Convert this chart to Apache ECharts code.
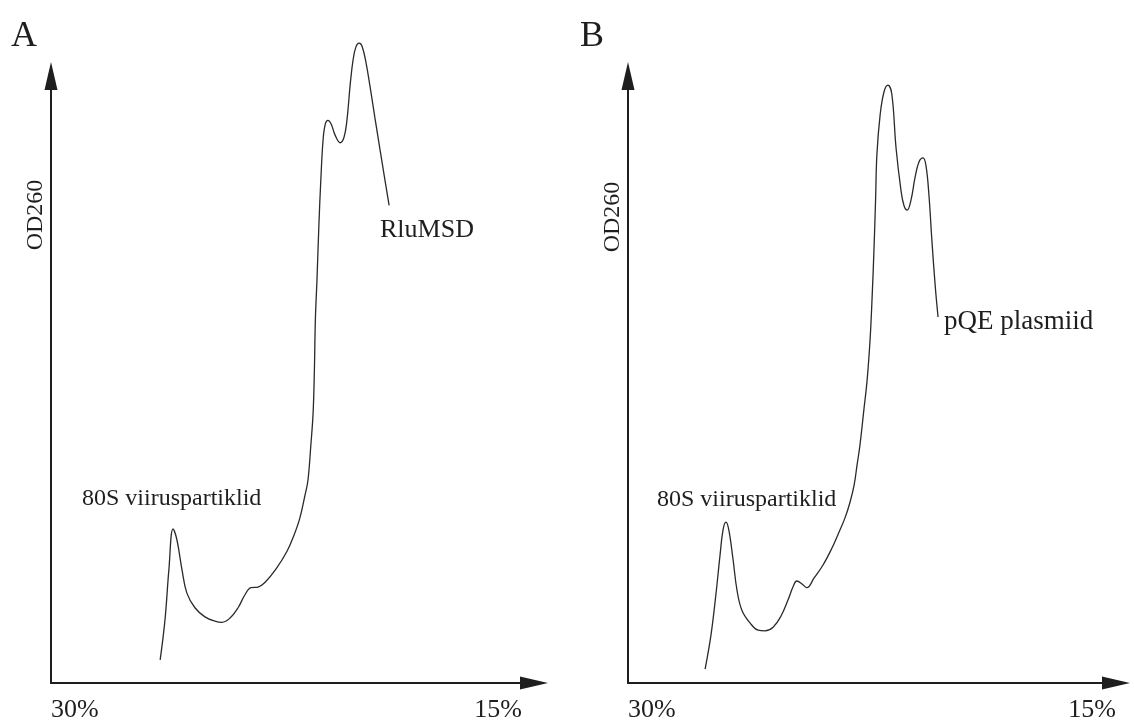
<!DOCTYPE html>
<html>
<head>
<meta charset="utf-8">
<script src="https://cdn.jsdelivr.net/npm/echarts@6/dist/echarts.min.js"></script>
<style>
html,body{margin:0;padding:0;background:#fff;}
#chart{width:1134px;height:723px;}
</style>
</head>
<body>
<div id="chart"></div>
<script>
// Sucrose gradient concentration (%) along the tube, 30% (bottom) -> 15% (top)
const xTickLabels = ['30%', '15%'];

// Panel A: RluMSD
const gradA = [26.61,26.46,26.34,26.21,26.09,25.93,25.78,25.53,25.22,24.91,24.69,24.44,24.19,23.98,23.79,23.57,23.35,23.01,22.67,22.45,22.27,22.11,22.02,21.93,21.86,21.82,21.79,21.74,21.68,21.62,21.55,21.48,21.40,21.30,21.18,21.02,20.90,20.81,20.71,20.62,20.53,20.43,20.34,20.22,20.09,19.94,19.78,19.63,19.50];
const odA   = [0.038,0.104,0.186,0.254,0.236,0.186,0.148,0.124,0.109,0.102,0.100,0.107,0.124,0.145,0.157,0.158,0.166,0.188,0.217,0.244,0.272,0.310,0.334,0.392,0.445,0.516,0.598,0.664,0.755,0.829,0.895,0.921,0.927,0.921,0.903,0.890,0.899,0.927,0.985,1.026,1.048,1.054,1.049,1.023,0.982,0.931,0.878,0.829,0.787];

// Panel B: pQE plasmiid
const gradB = [27.63,27.45,27.30,27.17,27.08,26.99,26.90,26.77,26.65,26.50,26.25,26.00,25.79,25.54,25.30,25.08,24.93,24.81,24.65,24.50,24.28,24.01,23.76,23.55,23.33,23.18,23.05,22.96,22.87,22.75,22.65,22.56,22.50,22.44,22.39,22.35,22.25,22.13,22.01,21.89,21.76,21.61,21.52,21.42,21.30,21.18,21.06,20.93,20.84,20.75,20.66,20.56,20.47];
const odB   = [0.023,0.079,0.145,0.211,0.252,0.265,0.252,0.203,0.153,0.120,0.099,0.087,0.086,0.092,0.110,0.137,0.158,0.168,0.163,0.157,0.173,0.194,0.219,0.244,0.272,0.297,0.326,0.359,0.392,0.450,0.499,0.565,0.631,0.713,0.796,0.870,0.936,0.974,0.985,0.970,0.881,0.812,0.787,0.779,0.796,0.832,0.858,0.865,0.852,0.804,0.730,0.656,0.603];

const panelLetters = ['A', 'B'];
const yName = 'OD260';
const peakLabels = ['80S viiruspartiklid', 'RluMSD', 'pQE plasmiid'];

const FONT = '"Liberation Serif", "Times New Roman", serif';
const INK = '#1e1e1e';

function pairs(xs, ys) { return xs.map((x, i) => [x, ys[i]]); }

function xAxisDef(gridIndex, endPad) {
  return {
    type: 'value', gridIndex: gridIndex, min: 15, max: 30, interval: 15, inverse: true,
    axisLine: { show: true, onZero: false, lineStyle: { color: INK, width: 2 },
      symbol: ['none', 'triangle'], symbolSize: [13, 28] },
    axisTick: { show: false }, splitLine: { show: false },
    axisLabel: {
      show: true, showMinLabel: true, showMaxLabel: true,
      alignMinLabel: 'right', alignMaxLabel: 'left',
      margin: 14, color: INK, fontFamily: FONT, fontSize: 26,
      formatter: v => v === 30 ? '{s|' + xTickLabels[0] + '}' : (v === 15 ? '{e|' + xTickLabels[1] + '}' : ''),
      rich: {
        s: { fontFamily: FONT, fontSize: 26, color: INK },
        e: { fontFamily: FONT, fontSize: 26, color: INK, padding: [0, endPad, 0, 0] }
      }
    }
  };
}
function yAxisDef(gridIndex) {
  return {
    type: 'value', gridIndex: gridIndex, min: 0, max: 1,
    axisLine: { show: true, onZero: false, lineStyle: { color: INK, width: 2 },
      symbol: ['none', 'triangle'], symbolSize: [13, 28] },
    axisTick: { show: false }, splitLine: { show: false }, axisLabel: { show: false }
  };
}
function lineSeries(idx, data) {
  return {
    type: 'line', xAxisIndex: idx, yAxisIndex: idx, data: data,
    smooth: 0.4, showSymbol: false, clip: false, silent: true,
    lineStyle: { color: '#2a2a2a', width: 1.3 }
  };
}
function txt(text, x, y, size, extra) {
  return Object.assign({
    type: 'text', x: x, y: y, silent: true,
    style: { text: text, fontFamily: FONT, fontSize: size, fill: INK,
      textAlign: 'left', textVerticalAlign: 'middle', align: 'left', verticalAlign: 'middle' }
  }, extra || {});
}
function vtxt(text, x, y, size) {
  return {
    type: 'text', x: x, y: y, rotation: Math.PI / 2, silent: true,
    style: { text: text, fontFamily: FONT, fontSize: size, fill: INK,
      textAlign: 'center', align: 'center', textVerticalAlign: 'middle', verticalAlign: 'middle' }
  };
}

const chart = echarts.init(document.getElementById('chart'), null, { renderer: 'canvas' });
chart.setOption({
  backgroundColor: '#ffffff',
  animation: false,
  grid: [
    { left: 51, right: 600, top: 76, bottom: 40, outerBoundsMode: 'none' },
    { left: 628, right: 18, top: 76, bottom: 40, outerBoundsMode: 'none' }
  ],
  xAxis: [xAxisDef(0, 12), xAxisDef(1, 0)],
  yAxis: [yAxisDef(0), yAxisDef(1)],
  series: [lineSeries(0, pairs(gradA, odA)), lineSeries(1, pairs(gradB, odB))],
  graphic: [
    txt(panelLetters[0], 11, 37, 36),
    txt(panelLetters[1], 580, 37, 36),
    vtxt(yName, 36, 215, 24),
    vtxt(yName, 613, 217, 24),
    txt(peakLabels[0], 82, 499, 24),
    txt(peakLabels[1], 380, 230, 26),
    txt(peakLabels[0], 657, 500, 24),
    txt(peakLabels[2], 944, 322, 27)
  ]
});
</script>
</body>
</html>
